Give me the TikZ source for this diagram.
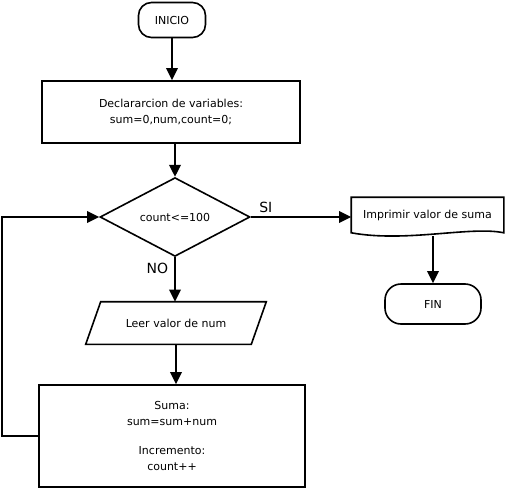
\documentclass[tikz,border=0pt]{standalone}
\usepackage{fontspec}
\setmainfont{DejaVu Sans}
\usetikzlibrary{shapes.geometric, arrows.meta}

\begin{document}
\begin{tikzpicture}[x=1pt, y=-1pt, line width=1.6pt,
  >={Triangle[width=11.5pt, length=12pt]},
  every node/.style={font=\fontsize{11}{16}\selectfont, align=center, inner sep=0pt},
  terminal/.style={draw, rectangle, rounded corners=13pt},
  process/.style={draw, rectangle},
  decision/.style={draw, diamond},
  flow/.style={->, line width=1.9pt},
  answer/.style={font=\fontsize{14}{16}\selectfont}]
  \useasboundingbox (0, 0) rectangle (509, 490);

  \node[terminal, minimum width=67pt, minimum height=35pt] (inicio) at (172, 20) {INICIO};
  \node[process, minimum width=258pt, minimum height=62pt] (decl) at (171, 112)
    {Declararcion de variables:\\sum=0,num,count=0;};
  \node[decision, minimum width=150pt, minimum height=74pt] (cond) at (175, 217) {count<=100};
  \node[minimum width=151pt, minimum height=34pt] (print) at (427.5, 215) {Imprimir valor de suma};
  \node[terminal, rounded corners=16pt, minimum width=96pt, minimum height=40pt] (fin) at (433, 304) {FIN};
  \node[minimum width=164pt, minimum height=41pt] (leer) at (176, 323) {Leer valor de num};
  \node[process, minimum width=266pt, minimum height=102pt] (sum) at (172, 436)
    {Suma:\\sum=sum+num\\[13pt]Incremento:\\count++};

  % documento con borde ondulado
  \draw (print.south west) -- (print.north west) -- (print.north east) -- (print.south east)
    .. controls +(-33, -7) and +(55, 10) .. (print.south west) -- cycle;
  % paralelogramo de entrada
  \draw ([xshift=7.5pt]leer.north west) -- ([xshift=7.5pt]leer.north east)
    -- ([xshift=-7.5pt]leer.south east) -- ([xshift=-7.5pt]leer.south west) -- cycle;

  \draw[flow] (inicio) -- (inicio |- decl.north);
  \draw[flow] (cond |- decl.south) -- (cond.north);
  \draw[flow] (cond.east) -- (cond.east -| print.west) node[answer, above=3pt, pos=0.15] {SI};
  \draw[flow] (cond.south) -- (cond.south |- leer.north) node[answer, left=6pt, pos=0.25] {NO};
  \draw[flow] ([yshift=-3pt]print.south -| fin.north) -- (fin.north);
  \draw[flow] (leer.south) -- (leer.south |- sum.north);
  \draw[flow] (sum.west) -- ++(-36, 0) |- (cond.west);
\end{tikzpicture}
\end{document}
